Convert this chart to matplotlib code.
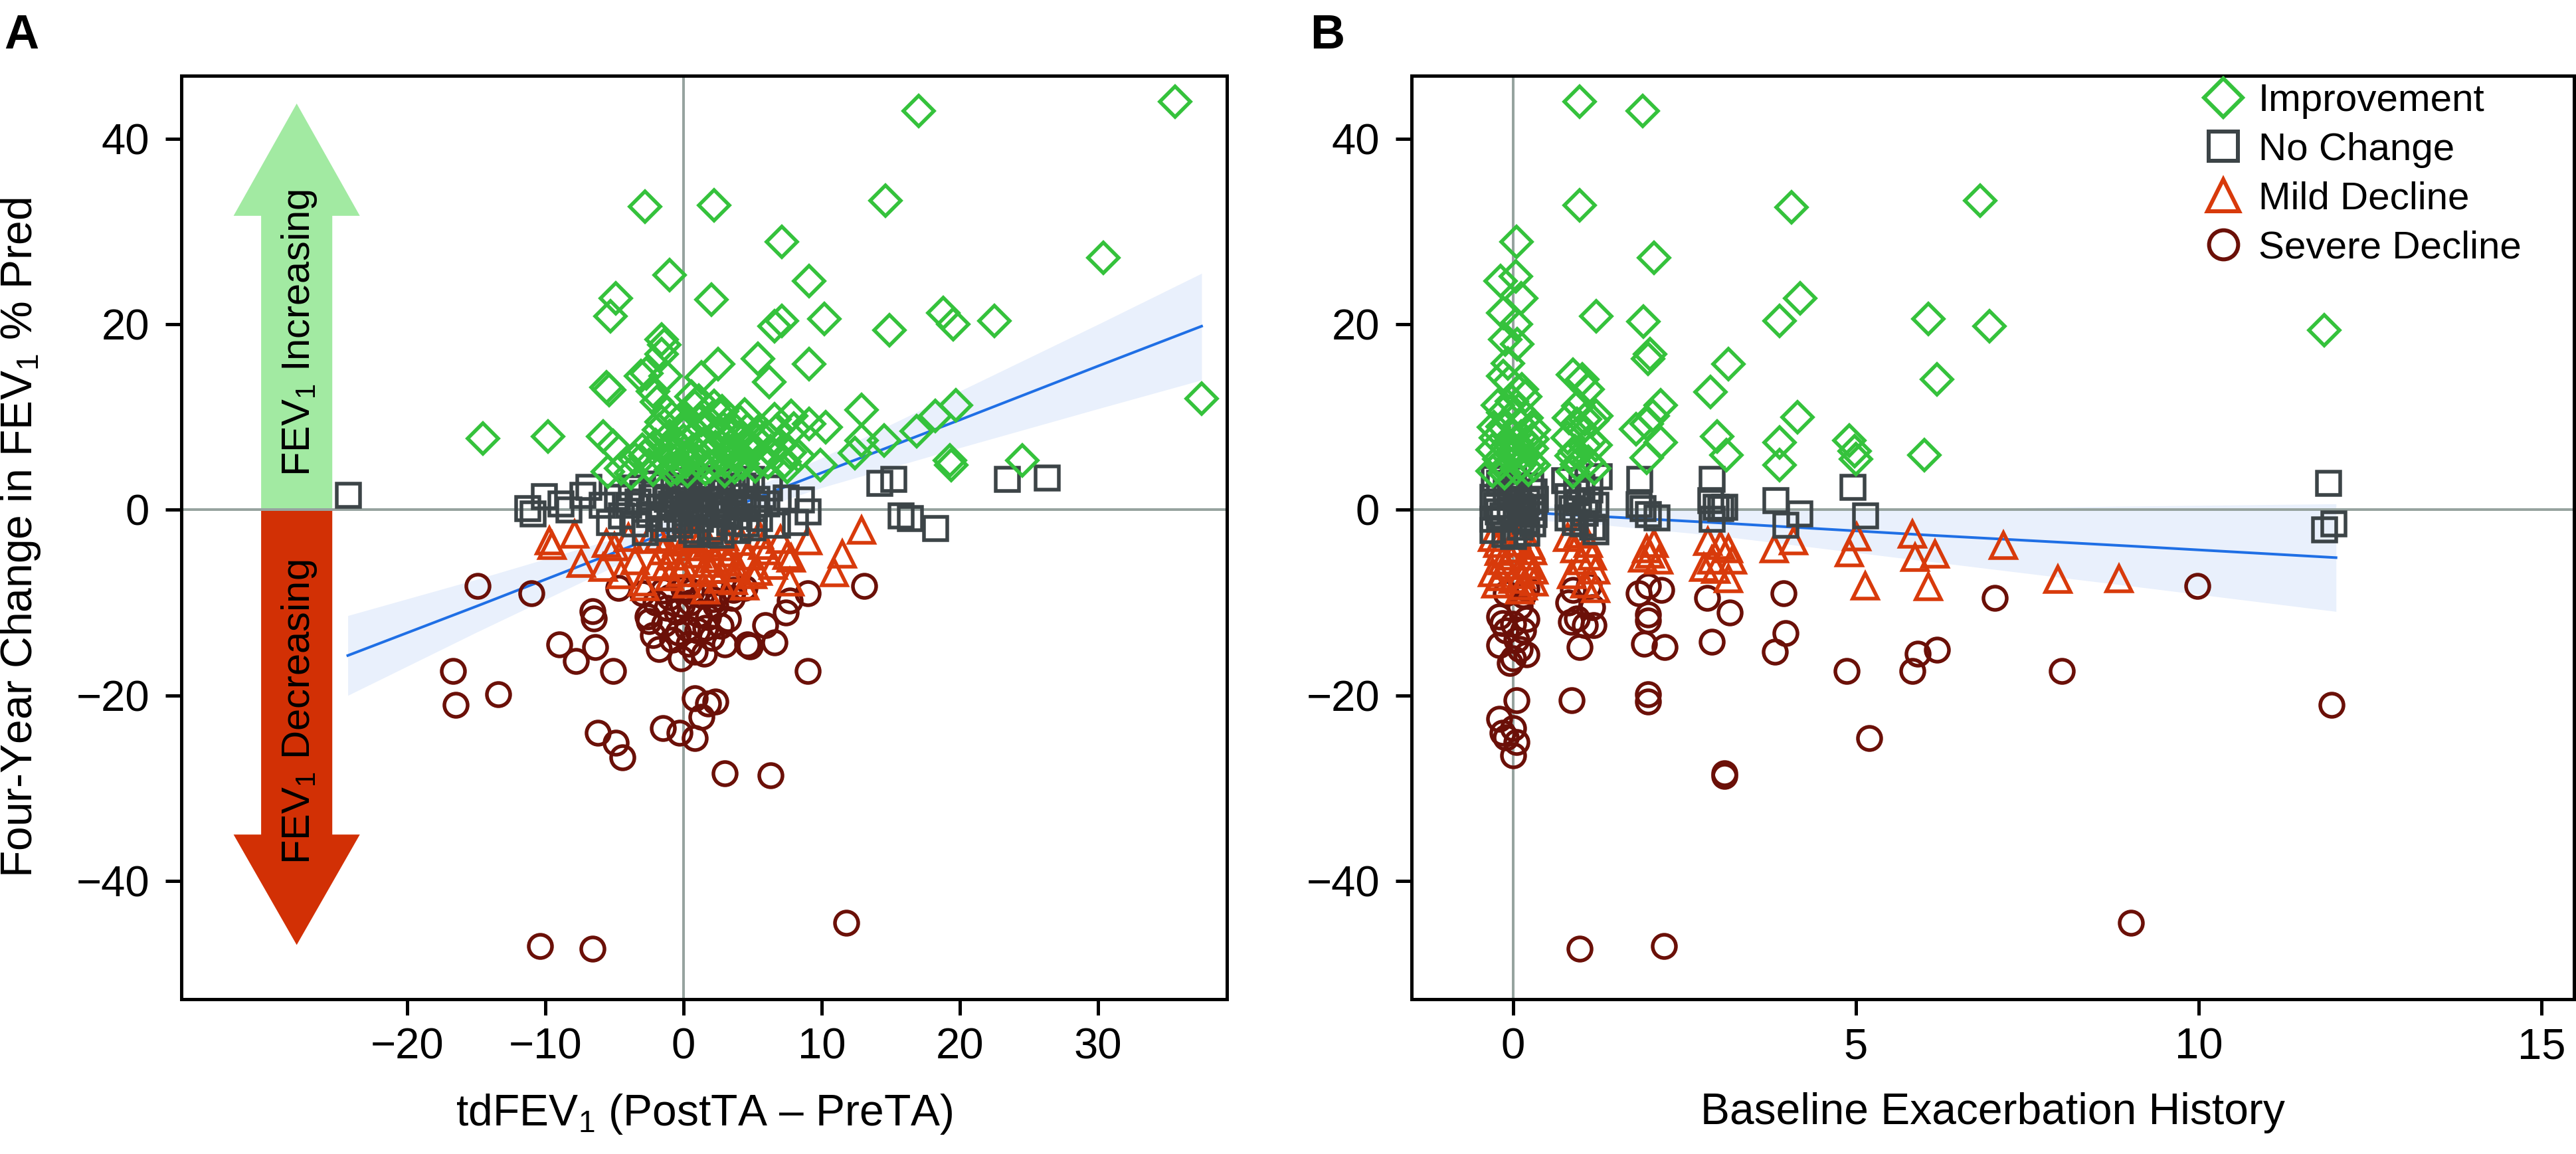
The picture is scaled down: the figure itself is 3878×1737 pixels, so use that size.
import numpy as np
import matplotlib.pyplot as plt
from matplotlib.patches import FancyArrow
from matplotlib.lines import Line2D

plt.rcParams['font.family'] = ['Liberation Sans', 'DejaVu Sans']
plt.rcParams['mathtext.fontset'] = 'custom'
plt.rcParams['mathtext.rm'] = 'Liberation Sans'
plt.rcParams['mathtext.it'] = 'Liberation Sans:italic'
plt.rcParams['mathtext.default'] = 'regular'

W, H, DPI = 3878, 1737, 100


def pt(px):
    return px * 72 / DPI


# ---- categories ----
labels = ['Improvement', 'No Change', 'Mild Decline', 'Severe Decline']
markers = ['D', 's', '^', 'o']
colors = ['#35c23c', '#3c4447', '#d83a0b', '#6b1008']
msizes = [pt(33), pt(35), pt(38), pt(35)]

# ---- panel A: tdFEV1 vs 4-year change ----
a_improve = [
    (35.6, 44.0), (17.0, 43.0), (-2.8, 32.7), (2.2, 32.8), (14.6, 33.3), (7.1, 28.9),
    (30.4, 27.2), (-1.0, 25.3), (9.1, 24.7), (-4.9, 22.8), (-5.3, 20.9), (2.0, 22.7),
    (6.6, 19.8), (7.1, 20.4), (10.2, 20.6), (14.9, 19.4), (18.8, 21.2), (19.5, 20.0),
    (22.5, 20.4), (-1.6, 18.4), (-1.4, 17.8), (-1.6, 16.8), (5.4, 16.3), (2.5, 15.7),
    (9.1, 15.7), (-3.1, 14.4), (-2.7, 14.7), (-1.3, 14.4), (1.3, 14.3), (-5.6, 13.2),
    (-5.4, 12.9), (6.2, 13.8), (-2.2, 12.8), (0.8, 11.1), (12.9, 10.8), (19.7, 11.3),
    (-1.6, 9.5), (2.7, 10.1), (7.8, 10.1), (9.1, 9.3), (10.3, 8.9), (18.2, 10.1),
    (16.9, 8.5), (-14.5, 7.7), (-9.8, 7.9), (-5.8, 7.9), (-5.1, 6.9), (12.9, 7.5),
    (14.5, 7.5), (12.4, 6.1), (19.3, 5.3), (19.4, 4.8), (24.5, 5.3), (9.9, 4.8),
    (-5.5, 4.1), (37.5, 12.0),
    (-3.5, 5.5), (-3.0, 6.5), (-2.5, 4.8), (-2.0, 7.0), (-1.5, 5.5), (-1.0, 8.0),
    (-0.8, 6.0), (-0.5, 4.5), (0.0, 7.5), (0.2, 5.2), (0.5, 9.0), (0.7, 6.5),
    (1.0, 8.2), (1.2, 4.9), (1.5, 7.0), (1.8, 5.8), (2.0, 9.3), (2.3, 6.8),
    (2.6, 8.1), (3.0, 5.2), (3.2, 7.4), (3.5, 9.0), (3.8, 6.0), (4.0, 7.8),
    (4.3, 5.0), (4.6, 8.6), (5.0, 6.5), (5.3, 7.5), (5.6, 5.5), (6.0, 8.0),
    (6.3, 6.3), (6.6, 9.8), (7.0, 7.0), (7.3, 5.2), (7.7, 6.2), (8.0, 8.8),
    (8.3, 5.8), (-4.5, 4.5), (-1.2, 10.5), (1.1, 11.8), (2.8, 10.6), (-0.3, 9.7),
    (4.8, 7.0), (3.0, 4.2), (0.3, 4.2),
    (-3.8, 4.0), (-2.8, 5.8), (-2.2, 4.3), (-1.8, 8.6), (-1.1, 6.7), (-0.6, 7.2),
    (-0.2, 5.8), (0.1, 8.6), (0.4, 6.0), (0.9, 5.4), (1.3, 9.7), (1.6, 4.4),
    (2.1, 7.8), (2.4, 5.1), (2.9, 8.8), (3.3, 6.3), (3.7, 4.6), (4.1, 9.5),
    (4.5, 6.8), (5.2, 4.7), (5.7, 8.4), (6.1, 5.1), (6.8, 8.6), (7.5, 4.6),
    (-1.9, 11.6), (0.6, 12.2), (2.2, 11.2), (4.4, 10.3), (-0.9, 4.3), (1.9, 4.7),
]
a_nochange = [
    (-24.3, 1.6), (-11.3, 0.2), (-10.9, -0.4), (-10.1, 1.5), (-8.9, 0.7), (-8.3, 0.0),
    (-6.9, 2.5), (-7.3, 1.6), (-5.9, 0.5), (-5.4, -1.3), (14.2, 2.9), (15.2, 3.3),
    (15.7, -0.6), (16.4, -0.9), (18.2, -2.0), (23.4, 3.3), (26.3, 3.5), (7.4, 1.3),
    (8.5, 1.1), (9.0, -0.2), (6.8, -1.6), (8.1, -1.3),
    (-4.0, 0.5), (-3.5, -1.5), (-3.0, 1.8), (-2.5, -0.5), (-2.0, 2.8), (-1.8, 0.3),
    (-1.5, -2.0), (-1.2, 1.2), (-1.0, -0.8), (-0.7, 2.2), (-0.5, 0.1), (-0.3, -1.6),
    (0.0, 1.0), (0.2, -0.3), (0.4, 2.5), (0.6, -2.2), (0.8, 0.6), (1.0, 1.7),
    (1.2, -1.0), (1.5, 0.2), (1.7, 2.9), (2.0, -1.8), (2.2, 1.1), (2.5, -0.4),
    (2.8, 2.0), (3.0, 0.5), (3.3, -1.3), (3.6, 1.5), (4.0, -0.7), (4.3, 2.6),
    (4.6, 0.3), (5.0, -1.9), (5.3, 1.2), (-2.8, -2.4), (-0.2, 3.2), (1.3, 3.4),
    (3.8, 3.1), (-3.8, 2.4), (0.9, -2.6), (2.7, -2.7), (4.9, 3.3), (5.5, -0.9),
    (-3.3, 0.9), (-2.3, 1.4), (-1.6, -0.9), (-0.9, 0.7), (-0.4, 1.6), (0.1, -1.1),
    (0.5, 0.3), (1.1, -0.2), (1.6, 1.2), (2.1, 0.1), (2.6, 1.0), (3.1, -0.5),
    (3.5, 2.2), (4.1, 0.8), (4.5, -1.5), (5.1, 0.2), (-1.3, 2.6), (0.3, 2.0),
    (1.9, -2.3), (3.9, -2.2), (6.0, 0.7), (6.2, 2.4), (-4.5, -0.6), (-4.8, 1.4),
]
a_mild = [
    (-9.7, -3.3), (-9.5, -3.8), (-7.9, -2.6), (-7.4, -5.8), (-5.8, -6.2), (-5.6, -3.6),
    (12.9, -2.2), (11.5, -4.8), (10.9, -6.8), (9.0, -3.3), (7.8, -5.2), (7.7, -7.8),
    (5.7, -3.8), (5.4, -6.6),
    (-5.0, -4.0), (-4.5, -7.0), (-4.0, -3.0), (-3.5, -5.5), (-3.0, -7.8), (-2.5, -3.2),
    (-2.0, -6.0), (-1.5, -4.4), (-1.0, -7.2), (-0.5, -3.5), (0.0, -5.8), (0.3, -8.0),
    (0.6, -2.8), (1.0, -4.8), (1.4, -6.8), (1.8, -3.6), (2.2, -5.3), (2.6, -7.5),
    (3.0, -2.9), (3.4, -4.6), (3.8, -6.3), (4.2, -3.4), (4.6, -5.0), (5.0, -7.0),
    (5.5, -2.7), (6.0, -4.4), (6.5, -6.0), (7.0, -3.2), (7.5, -4.9), (-2.8, -8.3),
    (1.6, -8.6), (4.4, -8.2),
    (-1.8, -3.0), (-0.8, -5.0), (-0.2, -6.8), (0.5, -4.0), (1.2, -3.1), (2.0, -6.4),
    (2.8, -4.0), (3.6, -7.6), (-1.3, -6.1), (0.2, -3.2), (1.7, -5.8), (3.2, -5.6),
]
a_severe = [
    (-14.9, -8.2), (-11.0, -9.0), (-6.6, -10.9), (-6.5, -11.7), (-16.7, -17.4),
    (-16.5, -21.0), (-13.4, -19.9), (-9.0, -14.5), (-7.8, -16.3), (-6.4, -14.8),
    (-5.1, -17.4), (-4.7, -8.4), (-6.2, -24.0), (-4.9, -25.1), (-4.4, -26.7),
    (-10.4, -47.0), (-6.6, -47.3), (11.8, -44.5), (-1.5, -23.5), (-0.3, -24.0),
    (0.8, -24.6), (0.8, -20.3), (1.8, -20.9), (2.3, -20.7), (1.3, -22.3),
    (3.0, -28.4), (6.3, -28.6), (9.0, -17.4), (9.0, -9.0), (13.1, -8.2),
    (4.8, -14.7), (4.6, -14.5), (6.6, -14.3), (5.9, -12.4), (7.4, -11.1),
    (7.7, -9.8), (3.6, -8.6), (4.4, -8.4),
    (-3.0, -9.0), (-2.6, -11.5), (-2.2, -13.5), (-2.0, -10.0), (-1.8, -15.0),
    (-1.4, -12.3), (-1.0, -9.4), (-0.8, -14.0), (-0.5, -11.0), (-0.2, -16.0),
    (0.0, -8.5), (0.3, -12.8), (0.5, -10.0), (0.8, -15.3), (1.0, -13.0),
    (1.3, -9.2), (1.5, -15.5), (1.8, -11.6), (2.0, -13.8), (2.3, -10.3),
    (2.7, -12.5), (3.0, -14.5), (3.2, -11.8), (3.5, -9.5), (-1.5, -8.7),
    (0.6, -8.8), (2.5, -9.0), (-2.5, -12.0), (1.1, -11.3), (-0.4, -13.2),
    (-1.2, -10.6), (-0.1, -10.2), (0.4, -14.4), (1.6, -12.7), (2.1, -9.6),
]
# linear fit and 95% band
fit_a_x = [-24.3, -15, -5, 2, 10, 20, 30, 37.5]
fit_a_y = [-15.7, -10.4, -4.6, -0.6, 4.0, 9.7, 15.5, 19.8]
fit_a_lo = [-20.0, -13.2, -6.1, -1.6, 2.4, 6.7, 10.9, 14.0]
fit_a_hi = [-11.4, -7.5, -3.1, 0.4, 5.6, 12.8, 20.0, 25.5]

# ---- panel B: exacerbation history vs 4-year change ----
b_improve = [
    (0.97, 44.0), (1.89, 43.0), (0.97, 32.8), (4.06, 32.6), (6.81, 33.3), (0.05, 28.9),
    (2.06, 27.2), (-0.18, 24.7), (0.04, 25.2), (0.12, 22.8), (4.19, 22.8), (1.21, 20.9),
    (-0.14, 21.2), (0.04, 20.0), (1.90, 20.3), (3.89, 20.4), (6.06, 20.6), (6.95, 19.8),
    (11.83, 19.4), (-0.11, 18.4), (0.06, 17.9), (2.00, 16.8), (1.97, 16.3), (3.14, 15.7),
    (6.18, 14.1), (0.87, 14.6), (1.01, 14.1), (-0.14, 14.4), (-0.06, 13.8), (0.13, 13.0),
    (1.09, 13.0), (2.88, 12.7), (-0.02, 11.7), (2.15, 11.3), (-0.14, 10.5), (1.21, 10.1),
    (4.15, 10.0), (2.04, 10.1), (1.95, 9.3), (0.93, 9.3), (1.05, 9.8), (1.79, 8.7),
    (2.98, 7.9), (3.89, 7.3), (4.90, 7.5), (4.98, 6.3), (5.00, 5.5), (6.00, 5.9),
    (3.11, 5.9), (3.89, 4.8), (2.15, 7.3), (1.95, 5.6), (0.87, 4.1), (0.93, 4.9),
    (1.13, 7.5),
    (-0.30, 4.2), (-0.20, 5.5), (-0.10, 6.8), (0.00, 8.0), (0.10, 9.2), (0.20, 7.3),
    (0.25, 5.2), (-0.25, 7.8), (0.05, 4.5), (0.15, 6.1), (-0.15, 9.0), (0.30, 8.6),
    (0.00, 5.8), (-0.05, 7.0), (0.10, 4.9), (0.20, 9.9), (-0.30, 6.5), (0.30, 4.8),
    (0.80, 7.8), (0.90, 6.3), (1.00, 8.7), (1.10, 5.2), (1.20, 7.0), (0.85, 5.8),
    (1.15, 9.6),
    (-0.28, 8.9), (-0.12, 4.0), (0.02, 6.4), (0.12, 7.9), (0.27, 6.6), (-0.22, 11.3),
    (0.18, 12.2), (-0.08, 15.8), (0.22, 4.3), (-0.18, 5.0), (0.08, 10.8), (0.28, 7.6),
    (0.95, 11.2), (1.18, 4.5), (0.82, 9.9), (1.05, 6.9),
]
b_nochange = [
    (11.89, 2.9), (11.83, -2.1), (11.96, -1.5), (1.84, 3.3), (1.83, 0.6), (1.89, 0.2),
    (1.97, -0.5), (2.09, -0.8), (2.90, 3.3), (2.88, 1.0), (2.96, 0.3), (3.02, 0.2),
    (3.08, 0.3), (2.90, -1.0), (3.83, 1.0), (3.97, -1.6), (4.18, -0.4), (4.95, 2.5),
    (5.14, -0.6),
    (0.75, 3.2), (0.80, 1.5), (0.85, 0.2), (0.90, -1.3), (1.00, 2.5), (1.05, -0.3),
    (1.10, 1.0), (1.15, -1.8), (1.20, 0.5), (1.25, 3.6), (1.20, -2.3), (0.95, 0.8),
    (1.12, 2.2), (0.80, -0.8),
    (-0.30, -2.2), (-0.20, -1.0), (-0.25, 0.5), (-0.10, 2.0), (0.00, 3.3), (0.10, -1.8),
    (0.20, 0.9), (0.30, -0.5), (0.25, 2.6), (-0.30, 1.4), (0.00, -2.8), (0.15, -0.2),
    (-0.15, -0.6), (0.05, 1.2), (0.30, 2.0), (-0.05, 0.0), (0.20, -2.5), (-0.20, 2.9),
    (0.10, 0.4), (0.28, -1.5),
    (-0.28, 3.4), (-0.12, -2.6), (0.08, 2.6), (0.18, -1.2), (-0.22, -0.2), (0.26, 0.3),
    (-0.05, 1.7), (0.12, -0.9), (-0.30, -1.0), (0.32, 1.2), (1.02, -1.5), (0.92, 1.9),
]
b_mild = [
    (5.82, -2.6), (5.01, -2.9), (4.90, -4.6), (3.81, -4.2), (4.09, -3.3), (5.86, -5.1),
    (6.15, -4.8), (5.14, -8.2), (6.06, -8.3), (7.15, -3.8), (7.94, -7.5), (8.84, -7.4),
    (2.84, -3.4), (3.02, -3.8), (3.14, -4.2), (2.90, -5.4), (2.78, -6.2), (3.20, -5.4),
    (3.14, -7.4), (2.96, -6.4),
    (1.95, -4.2), (2.06, -3.6), (2.12, -5.4), (2.00, -4.8), (1.89, -5.2),
    (0.80, -3.0), (0.90, -4.2), (1.00, -5.5), (1.10, -3.6), (1.20, -6.5), (0.85, -7.0),
    (1.05, -8.0), (1.15, -5.0), (0.95, -2.6), (1.20, -8.5),
    (-0.30, -3.0), (-0.20, -4.5), (-0.10, -6.0), (0.00, -7.5), (0.10, -3.5), (0.20, -5.0),
    (0.30, -6.5), (-0.25, -8.0), (0.05, -2.6), (0.15, -8.2), (-0.15, -5.5), (0.25, -3.8),
    (0.00, -4.2), (0.30, -7.8), (-0.30, -6.8), (0.10, -8.6),
    (-0.22, -3.6), (0.22, -6.0), (-0.05, -5.0), (0.12, -7.0), (-0.18, -7.2), (0.28, -4.4),
]
b_severe = [
    (9.98, -8.2), (7.02, -9.5), (8.00, -17.4), (11.93, -21.0), (9.01, -44.5),
    (0.97, -47.3), (2.20, -47.0), (0.85, -20.5), (1.97, -19.9), (1.97, -20.7),
    (3.08, -28.4), (3.08, -28.7), (5.19, -24.6), (4.86, -17.4), (5.82, -17.4),
    (5.90, -15.5), (6.18, -15.1), (3.82, -15.3), (3.97, -13.3), (3.94, -9.0),
    (2.83, -9.5), (2.90, -14.2), (3.16, -11.1), (0.97, -14.8), (1.91, -14.4),
    (2.21, -14.8), (2.16, -8.6), (1.97, -8.2), (1.83, -9.0), (1.97, -11.3),
    (1.97, -11.9), (0.84, -12.1), (0.93, -11.7), (1.05, -12.4), (1.17, -12.4),
    (1.15, -10.5), (0.81, -10.0), (0.87, -8.6), (1.11, -8.2),
    (0.20, -8.5), (0.15, -9.2), (-0.10, -9.0), (-0.20, -11.5), (0.00, -12.3),
    (0.20, -11.8), (-0.10, -13.0), (0.05, -14.0), (-0.20, -14.6), (0.10, -15.0),
    (0.00, -16.0), (-0.05, -16.5), (0.15, -13.0), (-0.15, -12.2), (0.20, -15.6),
    (0.05, -20.5), (-0.20, -22.5), (-0.15, -24.0), (0.00, -23.5), (0.05, -25.0),
    (0.00, -26.5), (-0.10, -24.5), (0.10, -10.4),
]
fit_b_x = [0, 1, 3, 6, 9, 12]
fit_b_y = [-0.2, -0.6, -1.4, -2.7, -3.9, -5.15]
fit_b_lo = [-1.0, -1.4, -2.8, -5.5, -8.2, -10.95]
fit_b_hi = [0.6, 0.2, -0.1, 0.1, 0.4, 0.65]

# arrow annotations in panel A (data units)
arrow_x = -28.0
arrow_up, arrow_down = 43.8, -46.9

fig = plt.figure(figsize=(W / DPI, H / DPI), dpi=DPI)
axA = fig.add_axes([273 / W, 1 - 1504 / H, (1847 - 273) / W, (1504 - 114) / H])
axB = fig.add_axes([2125 / W, 1 - 1504 / H, (3875 - 2125) / W, (1504 - 114) / H])

panels = [
    (axA, [a_improve, a_nochange, a_mild, a_severe], (fit_a_x, fit_a_y, fit_a_lo, fit_a_hi)),
    (axB, [b_improve, b_nochange, b_mild, b_severe], (fit_b_x, fit_b_y, fit_b_lo, fit_b_hi)),
]

for ax, groups, fit in panels:
    fx, fy, flo, fhi = fit
    ax.fill_between(fx, flo, fhi, color='#e9f0fc', lw=0, zorder=1)
    ax.axhline(0, color='#96a39f', lw=pt(4), zorder=2)
    ax.axvline(0, color='#96a39f', lw=pt(4), zorder=2)
    ax.plot(fx, fy, color='#1f6fe5', lw=pt(4), zorder=3)
    # draw severe first so improvement ends on top
    for i in reversed(range(4)):
        pts = np.array(groups[i])
        ax.plot(pts[:, 0], pts[:, 1], ls='none', marker=markers[i], ms=msizes[i],
                mfc='none', mec=colors[i], mew=pt(5.5), zorder=4 + (3 - i))
    ax.set_ylim(-52.75, 46.8)
    ax.set_yticks([-40, -20, 0, 20, 40])
    ax.set_yticklabels(['\u221240', '\u221220', '0', '20', '40'])
    for s in ax.spines.values():
        s.set_linewidth(pt(5))
    ax.tick_params(direction='out', length=pt(24), width=pt(5), labelsize=47)
    ax.tick_params(axis='y', pad=pt(24))
    ax.tick_params(axis='x', pad=pt(18))

axA.set_xlim(-36.35, 39.33)
axA.set_xticks([-20, -10, 0, 10, 20, 30])
axA.set_xticklabels(['\u221220', '\u221210', '0', '10', '20', '30'])
axB.set_xlim(-1.48, 15.47)
axB.set_xticks([0, 5, 10, 15])

# direction arrows
axA.add_patch(FancyArrow(arrow_x, 0, 0, arrow_up, width=5.15, head_width=9.14,
                         head_length=12.1, length_includes_head=True,
                         color='#a2eaa2', lw=0, zorder=1))
axA.add_patch(FancyArrow(arrow_x, 0, 0, arrow_down, width=5.15, head_width=9.14,
                         head_length=11.9, length_includes_head=True,
                         color='#d23005', lw=0, zorder=1))
axA.text(-27.07, 19.1, 'FEV$_1$ Increasing', rotation=90, rotation_mode='anchor',
         ha='center', va='baseline', fontsize=43, zorder=3)
axA.text(-27.07, -21.8, 'FEV$_1$ Decreasing', rotation=90, rotation_mode='anchor',
         ha='center', va='baseline', fontsize=43, zorder=3)

axA.set_ylabel('Four-Year Change in FEV$_1$ % Pred', fontsize=47.5)
axA.yaxis.set_label_coords((64 - 273) / 1574, 0.5)
axA.set_xlabel('tdFEV$_1$ (PostTA \u2013 PreTA)', fontsize=47.5)
axA.xaxis.set_label_coords(0.5, (1504 - 1644) / 1390)
axB.set_xlabel('Baseline Exacerbation History', fontsize=47.5)
axB.xaxis.set_label_coords(0.5, (1504 - 1644) / 1390)

fig.text(6 / W, 1 - 73 / H, 'A', fontsize=52, fontweight='bold', va='baseline')
fig.text(1972 / W, 1 - 73 / H, 'B', fontsize=52, fontweight='bold', va='baseline')

handles = [Line2D([], [], ls='none', marker=markers[i], ms=msizes[i] * 1.25,
                  mfc='none', mec=colors[i], mew=pt(6)) for i in range(4)]
axB.legend(handles, labels, loc='upper left', bbox_to_anchor=(3318 / W, 1 - 125 / H),
           bbox_transform=fig.transFigure, frameon=False, fontsize=42,
           borderpad=0, borderaxespad=0, handlelength=1.0, handletextpad=0.4,
           labelspacing=0.34)

fig.savefig('out.png', dpi=DPI)
